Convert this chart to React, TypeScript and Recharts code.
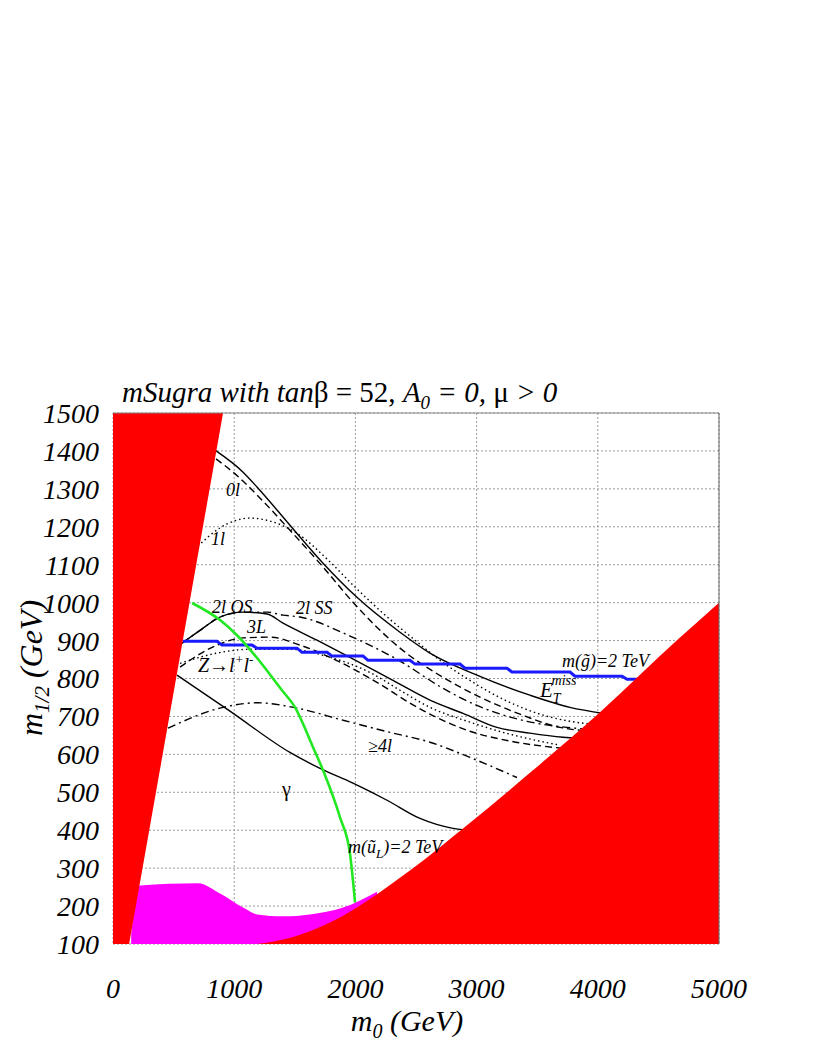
import React from "react";
import {
  Area,
  CartesianGrid,
  ComposedChart,
  Line,
  ReferenceDot,
  ReferenceLine,
  XAxis,
  YAxis,
} from "recharts";

// axes: m0 (GeV) vs m1/2 (GeV)
const X_TICKS = [0, 1000, 2000, 3000, 4000, 5000];
const Y_TICKS = [100, 200, 300, 400, 500, 600, 700, 800, 900, 1000, 1100, 1200, 1300, 1400, 1500];

// reach contours, [m0, m1/2]
const ET_MISS = [[842, 1402], [1073, 1344], [1188, 1305], [1460, 1204], [1733, 1104], [2013, 1014], [2368, 922], [2615, 867], [3003, 809], [3440, 756], [3770, 724], [4051, 708]];
const ZERO_L = [[850, 1379], [1048, 1328], [1188, 1284], [1460, 1191], [1733, 1094], [1980, 1001], [2368, 880], [2723, 803], [3028, 751], [3358, 706], [3688, 671], [3869, 663]];
const ONE_L = [[701, 1149], [883, 1197], [1130, 1223], [1295, 1215], [1518, 1183], [1766, 1115], [2013, 1036], [2285, 956], [2492, 901], [2698, 848], [2945, 795], [3234, 743], [3523, 706], [3812, 685], [3977, 679]];
const TWO_L_OS = [[569, 893], [718, 927], [883, 962], [1073, 975], [1271, 970], [1403, 946], [1683, 901], [1955, 856], [2310, 795], [2615, 743], [2888, 708], [3168, 671], [3440, 656], [3713, 645], [3853, 642]];
const TWO_L_SS = [[569, 893], [718, 927], [883, 962], [1073, 975], [1272, 975], [1403, 967], [1543, 962], [1955, 912], [2368, 846], [2723, 774], [3003, 729], [3416, 687], [3746, 671], [3935, 666]];
const THREE_L = [[553, 830], [858, 888], [1073, 907], [1295, 909], [1543, 888], [1873, 843], [2203, 785], [2450, 735], [2615, 706], [2945, 661], [3276, 635], [3705, 616]];
const Z_LL = [[553, 840], [858, 867], [1130, 877], [1460, 877], [1790, 856], [2120, 816], [2368, 769], [2615, 724], [2945, 685], [3276, 653], [3564, 632], [3688, 624]];
const FOUR_L = [[454, 669], [883, 722], [1188, 736], [1518, 722], [1898, 690], [2285, 658], [2615, 632], [2945, 592], [3333, 539]];
const GAMMA = [[528, 809], [965, 714], [1460, 605], [1708, 563], [1980, 524], [2261, 479], [2533, 431], [2805, 405], [2945, 400]];

// mass contours
const GLUINO_2TEV = [[578, 898], [858, 898], [899, 888], [1147, 888], [1188, 880], [1518, 880], [1559, 869], [1766, 869], [1807, 859], [2063, 859], [2104, 848], [2450, 848], [2492, 838], [2863, 838], [2904, 827], [3251, 827], [3292, 817], [3771, 817], [3812, 806], [4200, 806], [4241, 798], [4348, 798]];
const SQUARK_2TEV = [[652, 999], [883, 954], [1023, 914], [1155, 867], [1394, 769], [1502, 724], [1650, 619], [1733, 558], [1873, 434], [1955, 339], [1997, 210]];

// excluded regions, [m0, low, high]
const EXCL_LEFT = [[0, 100, 1500], [133, 100, 1500], [908, 1500, 1500]];
const EXCL_RIGHT = [[1188, 100, 100], [1500, 100, 120], [1790, 100, 157], [2450, 100, 294], [2921, 100, 413], [3465, 100, 558], [4018, 100, 711], [4653, 100, 901], [5000, 100, 1000]];
const MAGENTA = [[150, 100, 125], [223, 100, 254], [701, 100, 260], [883, 100, 233], [1073, 100, 196], [1188, 100, 178], [1403, 100, 173], [1625, 100, 178], [1898, 100, 196], [2178, 100, 238]];

const pts = (a: number[][]) => a.map(([m0, m12]) => ({ m0, m12 }));
const band = (a: number[][]) => a.map(([m0, lo, hi]) => ({ m0, band: [lo, hi] }));

const SERIF = "'Liberation Serif', 'Times New Roman', serif";
const SOLID = undefined;
const DASH = "7 4";
const DOT = "1.5 3";
const DASHDOT = "8 4 2 4";

const CONTOURS: { data: number[][]; dash?: string }[] = [
  { data: ET_MISS, dash: SOLID },
  { data: ZERO_L, dash: DASH },
  { data: ONE_L, dash: DOT },
  { data: TWO_L_OS, dash: SOLID },
  { data: TWO_L_SS, dash: DASHDOT },
  { data: THREE_L, dash: DASH },
  { data: Z_LL, dash: DOT },
  { data: FOUR_L, dash: DASHDOT },
  { data: GAMMA, dash: SOLID },
];

// in-plot annotations, anchored at text start / baseline
const LABELS: { m0: number; m12: number; node: React.ReactNode; upright?: boolean; size?: number }[] = [
  { m0: 932, m12: 1281, node: "0l" },
  { m0: 808, m12: 1152, node: "1l" },
  { m0: 817, m12: 972, node: "2l OS" },
  { m0: 1510, m12: 970, node: "2l SS" },
  { m0: 1106, m12: 919, node: "3L" },
  {
    m0: 701,
    m12: 816,
    size: 20,
    node: [
      "Z→l",
      <tspan key="a" dy={-8} fontSize={13}>+</tspan>,
      <tspan key="b" dy={8}>l</tspan>,
      <tspan key="c" dy={-8} fontSize={13}>-</tspan>,
    ],
  },
  { m0: 2104, m12: 605, node: "≥4l" },
  { m0: 1394, m12: 490, node: "γ", upright: true, size: 20 },
  {
    m0: 1939,
    m12: 341,
    node: ["m(ũ", <tspan key="a" dy={5} fontSize={13}>L</tspan>, <tspan key="b" dy={-5}>)=2 TeV</tspan>],
  },
  { m0: 3704, m12: 830, node: "m(g̃)=2 TeV" },
  {
    m0: 3523,
    m12: 751,
    size: 21,
    node: [
      "E",
      <tspan key="a" dy={6} fontSize={14}>T</tspan>,
      <tspan key="b" dx={-9} dy={-18} fontSize={14}>miss</tspan>,
    ],
  },
];

export default function App() {
  return (
    <div style={{ position: "relative", width: 800, height: 1042 }}>
      <ComposedChart
        width={800}
        height={1042}
        margin={{ top: 405, right: 89, bottom: 66, left: 25 }}
      >
        <CartesianGrid stroke="#9a9a9a" strokeDasharray="2 2" strokeWidth={1} />
        <XAxis
          type="number"
          dataKey="m0"
          domain={[0, 5000]}
          ticks={X_TICKS}
          interval={0}
          height={40}
          axisLine={false}
          tickLine={false}
          tickSize={0}
          tickMargin={34}
          tick={{ fill: "#000", fontSize: 28, fontStyle: "italic", fontFamily: SERIF }}
          allowDataOverflow
        />
        <YAxis
          type="number"
          domain={[100, 1500]}
          ticks={Y_TICKS}
          interval={0}
          width={80}
          axisLine={false}
          tickLine={false}
          tickSize={0}
          tickMargin={14}
          tick={{ fill: "#000", fontSize: 28, fontStyle: "italic", fontFamily: SERIF }}
          allowDataOverflow
        />

        {CONTOURS.map((c, i) => (
          <Line
            key={i}
            data={pts(c.data)}
            dataKey="m12"
            type="monotone"
            stroke="#000"
            strokeWidth={1.4}
            strokeDasharray={c.dash}
            dot={false}
            activeDot={false}
            isAnimationActive={false}
          />
        ))}
        <Line
          data={pts(GLUINO_2TEV)}
          dataKey="m12"
          type="linear"
          stroke="#1a1aff"
          strokeWidth={3}
          dot={false}
          activeDot={false}
          isAnimationActive={false}
        />
        <Line
          data={pts(SQUARK_2TEV)}
          dataKey="m12"
          type="monotone"
          stroke="#22e822"
          strokeWidth={2.6}
          dot={false}
          activeDot={false}
          isAnimationActive={false}
        />

        <Area
          data={band(MAGENTA)}
          dataKey="band"
          type="monotone"
          fill="#ff00ff"
          fillOpacity={1}
          stroke="none"
          isAnimationActive={false}
          zIndex={450}
        />
        <Area
          data={band(EXCL_LEFT)}
          dataKey="band"
          type="linear"
          fill="#ff0000"
          fillOpacity={1}
          stroke="none"
          isAnimationActive={false}
          zIndex={460}
        />
        <Area
          data={band(EXCL_RIGHT)}
          dataKey="band"
          type="monotone"
          fill="#ff0000"
          fillOpacity={1}
          stroke="none"
          isAnimationActive={false}
          zIndex={460}
        />

        <ReferenceLine y={1500} stroke="#888" strokeWidth={1} zIndex={470} />
        <ReferenceLine x={5000} stroke="#666" strokeWidth={1} zIndex={470} />

        {LABELS.map((l, i) => (
          <ReferenceDot
            key={i}
            x={l.m0}
            y={l.m12}
            r={0}
            ifOverflow="visible"
            zIndex={480}
            shape={(p: any) => (
              <text
                x={p.cx}
                y={p.cy}
                fontSize={l.size ?? 18}
                fontFamily={SERIF}
                fontStyle={l.upright ? "normal" : "italic"}
                fill="#000"
              >
                {l.node}
              </text>
            )}
          />
        ))}
      </ComposedChart>

      <svg
        width={800}
        height={1042}
        style={{ position: "absolute", left: 0, top: 0, pointerEvents: "none" }}
      >
        <text x={114} y={394} fontSize={29} fontFamily={SERIF} fontStyle="italic" fill="#000">
          mSugra with tan<tspan fontStyle="normal">β = 52, </tspan>A
          <tspan dy={7} fontSize={19}>0</tspan>
          <tspan dy={-7}> = 0, </tspan>
          <tspan fontStyle="normal">μ</tspan> &gt; 0
        </text>
        <text
          transform="translate(34,660) rotate(-90)"
          textAnchor="middle"
          fontSize={32}
          fontFamily={SERIF}
          fontStyle="italic"
          fill="#000"
        >
          m<tspan dy={7} fontSize={21}>1/2</tspan>
          <tspan dy={-7}> (GeV)</tspan>
        </text>
        <text x={399} y={1023} textAnchor="middle" fontSize={30} fontFamily={SERIF} fontStyle="italic" fill="#000">
          m<tspan dy={7} fontSize={20}>0</tspan>
          <tspan dy={-7}> (GeV)</tspan>
        </text>
      </svg>
    </div>
  );
}
